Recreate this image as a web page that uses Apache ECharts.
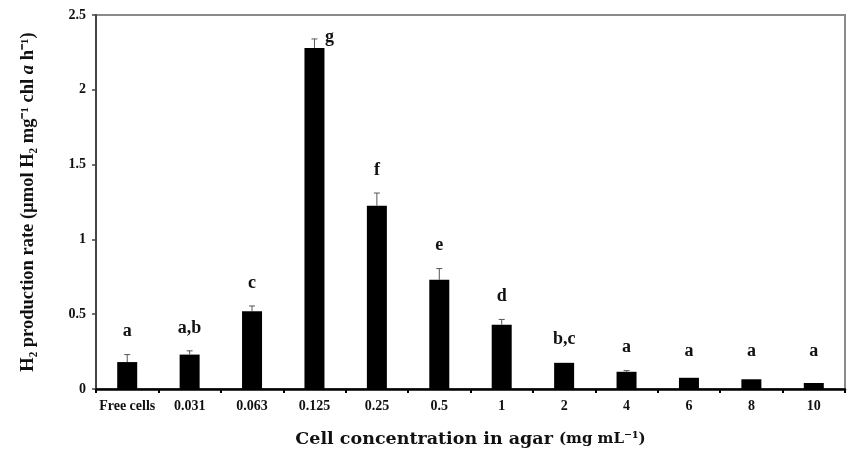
<!DOCTYPE html>
<html>
<head>
<meta charset="utf-8">
<script src="https://cdn.jsdelivr.net/npm/echarts@6/dist/echarts.min.js"></script>
<style>html,body{margin:0;padding:0;background:#fff}#c{width:848px;height:453px}</style>
</head>
<body>
<div id="c"></div>
<script>
const categories = ['Free cells','0.031','0.063','0.125','0.25','0.5','1','2','4','6','8','10'];
const rates = [0.18, 0.23, 0.52, 2.28, 1.225, 0.73, 0.43, 0.175, 0.115, 0.075, 0.065, 0.04];
const errors = [0.05, 0.025, 0.035, 0.06, 0.085, 0.075, 0.035, 0.005, 0.008, 0.005, 0.004, 0.004];
const letters = ['a','a,b','c','g','f','e','d','b,c','a','a','a','a'];
const yTicks = [0, 0.5, 1, 1.5, 2, 2.5];

const FONT = 'Liberation Serif';
const chart = echarts.init(document.getElementById('c'), null, {renderer: 'canvas'});
chart.setOption({
  animation: false,
  backgroundColor: '#fff',
  grid: {left: 96, right: 3, top: 15, bottom: 63, show: true, borderColor: '#8a8a8a', borderWidth: 2, backgroundColor: 'transparent'},
  xAxis: {
    type: 'category',
    data: categories,
    boundaryGap: true,
    axisLine: {lineStyle: {color: '#000', width: 2.5}},
    axisTick: {show: true, inside: false, length: 4, interval: 0, lineStyle: {color: '#000', width: 2}},
    axisLabel: {color: '#111', fontFamily: FONT, fontWeight: 'bold', fontSize: 14, margin: 10, interval: 0},
    name: '{t|Cell concentration in agar }{u|(mg mL⁻¹)}',
    nameLocation: 'middle',
    nameGap: 41,
    nameTextStyle: {
      rich: {
        t: {fontFamily: 'DejaVu Serif', fontWeight: 'bold', fontSize: 17.5, color: '#111'},
        u: {fontFamily: 'DejaVu Serif', fontWeight: 'bold', fontSize: 15, color: '#111'}
      }
    }
  },
  yAxis: {
    type: 'value',
    min: yTicks[0],
    max: yTicks[yTicks.length - 1],
    interval: 0.5,
    axisLine: {show: true, lineStyle: {color: '#444', width: 2}},
    axisTick: {show: true, length: 4, lineStyle: {color: '#444', width: 1.5}},
    splitLine: {show: false},
    axisLabel: {color: '#111', fontFamily: FONT, fontWeight: 'bold', fontSize: 14, margin: 10,
      formatter: v => String(v)},
    name: '{b|H₂ production rate (µmol H₂ mg⁻¹ chl }{i|a}{b| h⁻¹)}',
    nameLocation: 'middle',
    nameGap: 58,
    nameRotate: 90,
    nameTextStyle: {
      rich: {
        b: {fontFamily: FONT, fontWeight: 'bold', fontSize: 18.5, color: '#111'},
        i: {fontFamily: FONT, fontWeight: 'bold', fontStyle: 'italic', fontSize: 18.5, color: '#111'}
      }
    }
  },
  series: [
    {
      type: 'bar',
      data: rates,
      barWidth: 20,
      itemStyle: {color: '#000'},
      z: 2
    },
    {
      type: 'custom',
      data: rates.map((v, i) => [i, v, errors[i]]),
      z: 3,
      renderItem: function (params, api) {
        const i = api.value(0), v = api.value(1), e = api.value(2);
        const base = api.coord([i, v]);
        const top = api.coord([i, v + e]);
        const gridTop = params.coordSys.y;
        const children = [];
        if (e > 0.006) {
          children.push({type: 'line', shape: {x1: base[0], y1: base[1], x2: top[0], y2: top[1]},
            style: {stroke: '#555', lineWidth: 1}});
          children.push({type: 'line', shape: {x1: top[0] - 3, y1: top[1], x2: top[0] + 3, y2: top[1]},
            style: {stroke: '#555', lineWidth: 1}});
        }
        let ly = Math.min(top[1] - 23, api.coord([i, 0.25])[1]);
        let lx = top[0];
        if (ly - 8 < gridTop) { ly = top[1] - 2; lx = top[0] + 15; }
        children.push({type: 'text', x: lx, y: ly,
          style: {text: letters[i], fill: '#111', font: 'bold 18px "Liberation Serif"', align: 'center', verticalAlign: 'middle'}});
        return {type: 'group', children: children};
      }
    }
  ]
});
</script>
</body>
</html>
